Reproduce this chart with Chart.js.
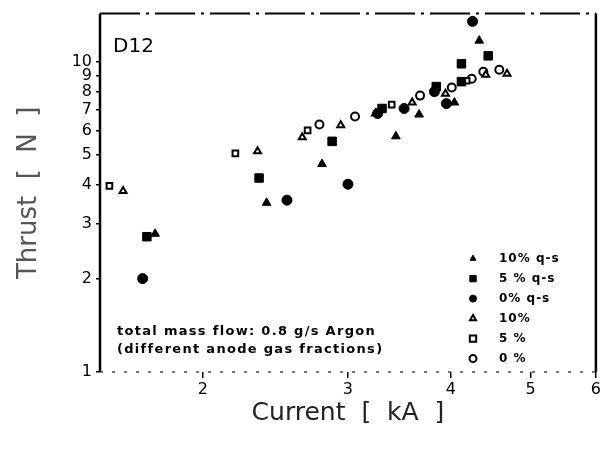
<!DOCTYPE html>
<html lang="en">
<head>
    <meta charset="UTF-8">
    <title>D12 Thrust vs Current</title>
    <script src="https://cdn.jsdelivr.net/npm/chart.js"></script>
    <style>
        html, body { margin: 0; padding: 0; background: #fff; }
        #wrap { width: 603px; height: 450px; }
    </style>
</head>
<body>
    <div id="wrap"><canvas id="thrustChart"></canvas></div>

    <script>
        // values (current in kA, thrust in N)
        const current10qs = [1.75, 2.39, 2.79, 3.43, 3.66, 4.04, 4.33];
        const thrust10qs  = [2.79, 3.51, 4.68, 5.75, 6.76, 7.39, 11.7];

        const current5qs = [1.71, 2.34, 2.87, 3.30, 3.84, 4.12, 4.12, 4.44];
        const thrust5qs  = [2.73, 4.22, 5.54, 7.07, 8.32, 8.63, 9.85, 10.45];

        const current0qs = [1.69, 2.53, 3.00, 3.26, 3.51, 3.82, 3.95, 4.25];
        const thrust0qs  = [2.00, 3.58, 4.03, 6.81, 7.07, 8.01, 7.33, 13.5];

        const current10 = [1.60, 2.33, 2.64, 2.94, 3.24, 3.59, 3.94, 4.41, 4.68];
        const thrust10  = [3.83, 5.15, 5.71, 6.24, 6.81, 7.39, 7.89, 9.09, 9.15];

        const current5 = [1.54, 2.19, 2.68, 3.39, 4.18];
        const thrust5  = [3.98, 5.07, 6.01, 7.28, 8.69];

        const current0 = [2.77, 3.06, 3.67, 4.01, 4.24, 4.38, 4.58];
        const thrust0  = [6.28, 6.66, 7.78, 8.26, 8.82, 9.29, 9.43];

        const xTicks = [2, 3, 4, 5, 6];
        const yTicks = [1, 2, 3, 4, 5, 6, 7, 8, 9, 10];

        const pairs = (xs, ys) => xs.map((x, i) => ({ x: x, y: ys[i] }));

        function series(label, xs, ys, style, filled, radius) {
            return {
                label: label,
                data: pairs(xs, ys),
                pointStyle: style,
                pointRadius: radius,
                pointBackgroundColor: filled ? '#000' : '#fff',
                pointBorderColor: '#000',
                pointBorderWidth: filled ? 1 : 2,
                showLine: false
            };
        }

        const datasets = [
            series('10% q-s', current10qs, thrust10qs, 'triangle', true, 5),
            series('5 % q-s', current5qs, thrust5qs, 'rect', true, 6),
            series('0% q-s', current0qs, thrust0qs, 'circle', true, 5),
            series('10%', current10, thrust10, 'triangle', false, 4),
            series('5 %', current5, thrust5, 'rect', false, 4),
            series('0 %', current0, thrust0, 'circle', false, 4)
        ];

        // frame around the plot, legend and notes drawn inside
        const framePlugin = {
            id: 'frame',
            afterDraw(chart) {
                const { ctx, chartArea: a } = chart;
                ctx.save();
                ctx.strokeStyle = '#000';
                ctx.lineWidth = 2.5;
                ctx.beginPath();
                ctx.moveTo(a.left, a.top); ctx.lineTo(a.left, a.bottom);
                ctx.moveTo(a.right, a.top); ctx.lineTo(a.right, a.bottom);
                ctx.stroke();
                ctx.lineWidth = 2;
                ctx.setLineDash([40, 6, 3, 6]);
                ctx.beginPath();
                ctx.moveTo(a.left, a.top); ctx.lineTo(a.right, a.top);
                ctx.stroke();
                ctx.lineWidth = 1.5;
                ctx.strokeStyle = '#444';
                ctx.setLineDash([3, 9]);
                ctx.beginPath();
                ctx.moveTo(a.left, a.bottom); ctx.lineTo(a.right, a.bottom);
                ctx.stroke();
                ctx.setLineDash([]);

                ctx.fillStyle = '#000';
                ctx.textBaseline = 'middle';
                ctx.textAlign = 'left';
                ctx.font = '20px "DejaVu Sans"';
                ctx.fillText('D12', a.left + 13, a.top + 33);

                ctx.font = 'bold 13px "DejaVu Sans"';
                ctx.letterSpacing = '1.3px';
                ctx.fillText('total mass flow: 0.8 g/s Argon', a.left + 17, a.top + 318);
                ctx.fillText('(different anode gas fractions)', a.left + 17, a.top + 336);

                // legend
                chart.data.datasets.forEach((ds, i) => {
                    const y = a.top + 245 + i * 20;
                    const x = a.left + 373;
                    ctx.fillStyle = ds.pointBackgroundColor;
                    ctx.strokeStyle = '#000';
                    ctx.lineWidth = ds.pointBorderWidth;
                    Chart.helpers.drawPoint(ctx, {
                        pointStyle: ds.pointStyle,
                        radius: ds.pointStyle === 'rect' ? 4.5 : 3.5,
                        borderWidth: ds.pointBorderWidth,
                        rotation: 0
                    }, x, y);
                    ctx.fillStyle = '#000';
                    ctx.font = 'bold 12px "DejaVu Sans"';
                    ctx.letterSpacing = '1px';
                    ctx.fillText(ds.label, x + 26, y);
                });
                ctx.restore();
            }
        };

        const ctx = document.getElementById('thrustChart').getContext('2d');
        new Chart(ctx, {
            type: 'scatter',
            data: { datasets: datasets },
            options: {
                responsive: true,
                maintainAspectRatio: false,
                animation: false,
                layout: { padding: { left: 0, right: 6, top: 12, bottom: 0 } },
                plugins: {
                    legend: { display: false },
                    tooltip: { enabled: false }
                },
                scales: {
                    x: {
                        type: 'logarithmic',
                        min: 1.5,
                        max: 6,
                        afterBuildTicks: (scale) => { scale.ticks = xTicks.map(v => ({ value: v })); },
                        afterFit: (scale) => { scale.height = 78; },
                        grid: { display: true, drawOnChartArea: false, color: '#000', tickLength: 6, lineWidth: 1.5 },
                        border: { display: false },
                        ticks: {
                            color: '#000',
                            font: { family: 'DejaVu Sans', size: 16 },
                            padding: 2,
                            maxRotation: 0,
                            autoSkip: false,
                            callback: (v) => String(v)
                        },
                        title: {
                            display: true,
                            text: 'Current  [  kA  ]',
                            color: '#222',
                            font: { family: 'DejaVu Sans', size: 25 },
                            padding: { top: 4, bottom: 22 }
                        }
                    },
                    y: {
                        type: 'logarithmic',
                        min: 1,
                        max: 14.3,
                        afterBuildTicks: (scale) => { scale.ticks = yTicks.map(v => ({ value: v })); },
                        afterFit: (scale) => { scale.width = 100; },
                        grid: { display: true, drawOnChartArea: false, color: '#000', tickLength: 4, lineWidth: 1.5 },
                        border: { display: false },
                        ticks: {
                            color: '#000',
                            font: { family: 'DejaVu Sans', size: 16 },
                            padding: 4,
                            autoSkip: false,
                            callback: (v) => String(v)
                        },
                        title: {
                            display: true,
                            text: 'Thrust  [  N  ]',
                            color: '#555',
                            font: { family: 'DejaVu Sans', size: 26 },
                            padding: { top: 14, bottom: 4 }
                        }
                    }
                }
            },
            plugins: [framePlugin]
        });
    </script>
</body>
</html>
